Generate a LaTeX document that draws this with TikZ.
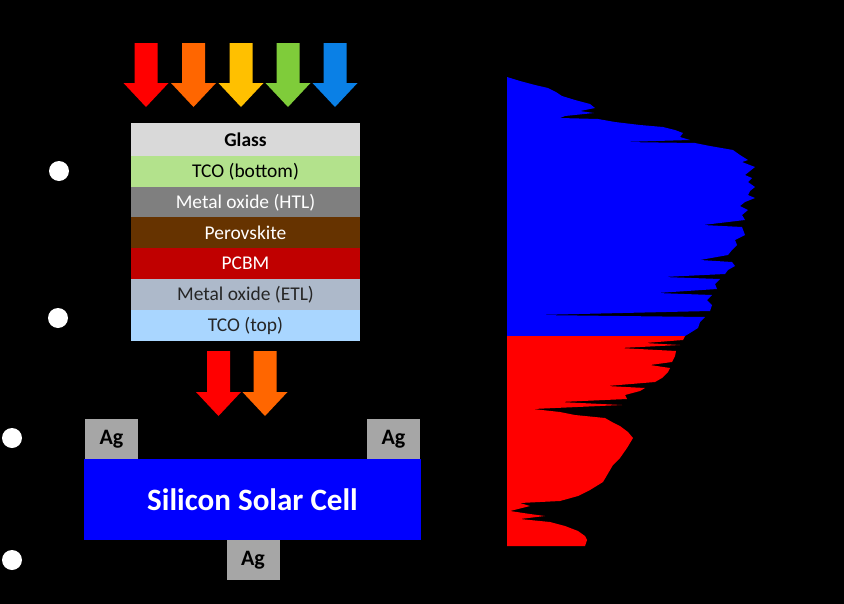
\documentclass[tikz,border=0pt]{standalone}
\usepackage{fontspec}
\setmainfont{Carlito}
\begin{document}
\begin{tikzpicture}[x=0.75pt,y=-0.75pt,
  layer/.style={draw=none,inner sep=0pt,minimum width=171.75pt,minimum height=23.3pt,font=\fontsize{14.6}{16}\selectfont},
  agbox/.style={fill=agc,inner sep=0pt,minimum width=39.75pt,minimum height=30pt,font=\fontsize{16.5}{18}\selectfont\bfseries,text=black},
  dot/.style={circle,fill=white,inner sep=0pt,minimum size=15pt}]
\definecolor{arred}{HTML}{FF0000}
\definecolor{arorange}{HTML}{FF6600}
\definecolor{aryellow}{HTML}{FFC000}
\definecolor{argreen}{HTML}{7FCC3A}
\definecolor{arblue}{HTML}{0A80E6}
\definecolor{glassc}{HTML}{D9D9D9}
\definecolor{tcobc}{HTML}{B3E28C}
\definecolor{htlc}{HTML}{7F7F7F}
\definecolor{peroc}{HTML}{663300}
\definecolor{pcbmc}{HTML}{C00000}
\definecolor{etlc}{HTML}{ADB9CA}
\definecolor{tcotc}{HTML}{A9D6FF}
\definecolor{agc}{HTML}{A6A6A6}
\definecolor{darktxt}{HTML}{262626}
\newcommand\bdarrow[5]{% cx, ytop, ybase, ytip, colour
  \fill[#5] (#1-11.5,#2) -- (#1+11.5,#2) -- (#1+11.5,#3) -- (#1+22.5,#3) -- (#1,#4) -- (#1-22.5,#3) -- (#1-11.5,#3) -- cycle;}
\useasboundingbox (0,0) rectangle (844,604);
\fill[black] (0,0) rectangle (844,604);
% incoming light
\bdarrow{146}{43}{83}{107}{arred}
\bdarrow{193.5}{43}{83}{107}{arorange}
\bdarrow{241}{43}{83}{107}{aryellow}
\bdarrow{288}{43}{83}{107}{argreen}
\bdarrow{335}{43}{83}{107}{arblue}
% layer stack
\node[layer,fill=glassc,minimum height=25.5pt,font=\fontsize{14.6}{16}\selectfont\bfseries,text=black] (glass) at (245.5,140) {Glass};
\node[layer,fill=tcobc,text=black] (tcob) at (245.5,172) {TCO (bottom)};
\node[layer,fill=htlc,text=white] (htl) at (245.5,202.5) {Metal oxide (HTL)};
\node[layer,fill=peroc,text=white] (pero) at (245.5,233) {Perovskite};
\node[layer,fill=pcbmc,text=white] (pcbm) at (245.5,263.5) {PCBM};
\node[layer,fill=etlc,text=darktxt] (etl) at (245.5,294.5) {Metal oxide (ETL)};
\node[layer,fill=tcotc,text=darktxt] (tcot) at (245.5,325.5) {TCO (top)};
% transmitted light
\bdarrow{218.5}{351}{392}{416}{arred}
\bdarrow{265}{351}{392}{416}{arorange}
% silicon cell
\node[fill=blue,inner sep=0pt,minimum width=252.75pt,minimum height=60.75pt,text=white,font=\fontsize{23.3}{26}\selectfont\bfseries] (si) at (252.5,499.5) {Silicon Solar Cell};
\node[agbox] (agl) at (111.5,439) {Ag};
\node[agbox] (agr) at (393.5,439) {Ag};
\node[agbox] (agb) at (253,560) {Ag};
% white dots
\node[dot] (d1) at (59,171) {};
\node[dot] (d2) at (58,318) {};
\node[dot] (d3) at (12,438) {};
\node[dot] (d4) at (12,560) {};
% spectrum
\fill[blue] (507,77) -- (520,81) -- (535,85) -- (548,88) -- (556,92) -- (562,96) -- (575,100) -- (590,104) -- (595,108) -- (580,111) -- (594,113) -- (565,116) -- (560,118) -- (598,119) -- (615,122) -- (640,125) -- (663,127) -- (675,130) -- (683,133) -- (680,137) -- (690,140) -- (622,142) -- (695,143) -- (710,146) -- (733,150) -- (740,155) -- (748,160) -- (742,162) -- (755,167) -- (750,171) -- (745,175) -- (752,178) -- (748,182) -- (755,187) -- (750,191) -- (748,195) -- (755,198) -- (745,202) -- (740,206) -- (748,210) -- (742,215) -- (745,220) -- (703,225) -- (742,227) -- (745,235) -- (735,240) -- (737,245) -- (732,250) -- (728,255) -- (700,260) -- (732,262) -- (735,266) -- (728,270) -- (725,274) -- (663,277) -- (720,279) -- (715,284) -- (717,289) -- (657,293) -- (712,295) -- (707,300) -- (712,305) -- (710,311) -- (535,315) -- (705,317) -- (700,322) -- (698,328) -- (690,333) -- (685,336) -- (507,336) -- cycle;
\fill[red] (507,336) -- (685,336) -- (683,340) -- (645,343) -- (680,345) -- (620,348) -- (676,351) -- (675,356) -- (672,362) -- (650,365) -- (670,368) -- (668,372) -- (662,378) -- (655,382) -- (607,386) -- (645,388) -- (640,391) -- (625,395) -- (627,399) -- (560,402) -- (622,405) -- (533,409) -- (560,412) -- (575,415) -- (605,418) -- (612,422) -- (620,426) -- (628,432) -- (633,438) -- (627,448) -- (620,458) -- (613,465) -- (603,482) -- (590,490) -- (578,496) -- (560,501) -- (520,503) -- (530,506) -- (510,511) -- (530,514) -- (545,516) -- (520,519) -- (550,522) -- (565,526) -- (578,531) -- (585,536) -- (587,540) -- (585,546) -- (507,546) -- cycle;
\end{tikzpicture}
\end{document}
